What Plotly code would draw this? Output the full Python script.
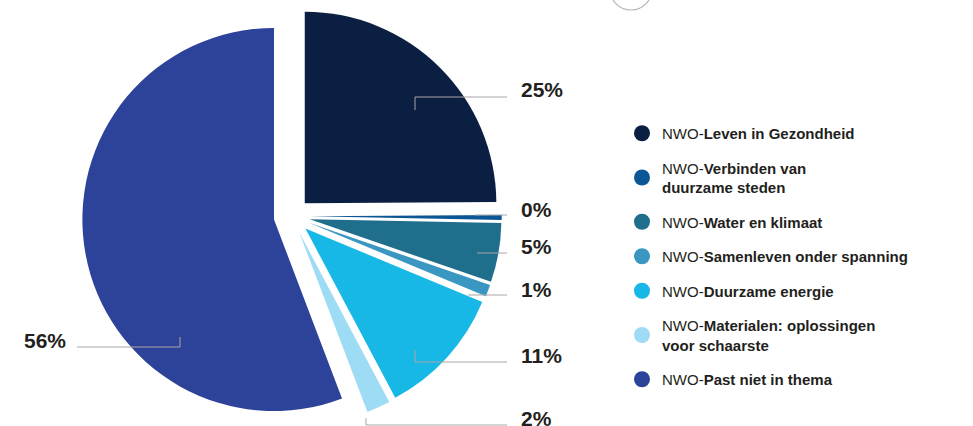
import plotly.graph_objects as go

# aandeel per thema (%)
themes = ['Leven in Gezondheid', 'Verbinden van<br>duurzame steden', 'Water en klimaat',
          'Samenleven onder spanning', 'Duurzame energie',
          'Materialen: oplossingen<br>voor schaarste', 'Past niet in thema']
values = [25, 0.4, 5, 1, 11, 2, 56]
pct_labels = ['25%', '0%', '5%', '1%', '11%', '2%', '56%']
colors = ['#0b1f43', '#0b5694', '#1e6e8c', '#3a97c2', '#18b8e6', '#9edcf5', '#2c4399']

W, H = 973, 426
def px(x, y):
    return x / W, 1 - y / H

fig = go.Figure()
fig.add_trace(go.Pie(
    values=values, labels=themes, sort=False, direction='clockwise', rotation=0,
    marker=dict(colors=colors, line=dict(width=0)),
    pull=[0.095] * len(values), textinfo='none', hoverinfo='label+percent',
    showlegend=False, domain=dict(x=[0, 0.6], y=[0, 0.985]),
))

# legenda met ronde stippen
for i, (t, c) in enumerate(zip(themes, colors)):
    fig.add_trace(go.Scatter(
        x=[None], y=[None], mode='markers', name='NWO-<b>' + t + '</b>',
        marker=dict(color=c, size=16, symbol='circle'), legendgroup=str(i), showlegend=True,
    ))

# leader lines + labels (pixel positions)
label_layout = [
    # (anchor_x, anchor_y, elbow_y, line_end_x, text_x, text_y, side)
    (415, 110, 97, 507, 519, 89, 'r'),
    (475, 215, 215, 507, 519, 209, 'r'),
    (477, 253, 253, 507, 519, 246, 'r'),
    (468, 295, 295, 507, 519, 289, 'r'),
    (415, 350, 362, 507, 519, 355, 'r'),
    (366, 418, 425, 507, 519, 418, 'r'),
    (180, 337, 347, 77, 68, 340, 'l'),
]
shapes = []
annotations = []
for lab, (ax, ay, ey, lx, tx, ty, side) in zip(pct_labels, label_layout):
    x0, y0 = px(ax, ay)
    x1, y1 = px(ax, ey)
    x2, y2 = px(lx, ey)
    shapes.append(dict(type='path', xref='paper', yref='paper',
                       path=f'M {x0} {y0} L {x1} {y1} L {x2} {y2}',
                       line=dict(color='#a6a6a6', width=1)))
    annotations.append(dict(text=f'<b>{lab}</b>', xref='paper', yref='paper',
                            x=px(tx, ty)[0], y=px(tx, ty)[1],
                            xanchor='left' if side == 'r' else 'right', yanchor='middle',
                            showarrow=False, font=dict(size=21, color='#231f20')))

# cirkel bovenaan (deels buiten beeld)
cx0, cy0 = px(610, -32)
cx1, cy1 = px(652, 10)
shapes.append(dict(type='circle', xref='paper', yref='paper', x0=cx0, y0=cy0, x1=cx1, y1=cy1,
                   line=dict(color='#b5b5b5', width=1.2)))

fig.update_layout(
    width=W, height=H, margin=dict(l=0, r=0, t=0, b=0),
    paper_bgcolor='white', plot_bgcolor='white',
    font=dict(family='Liberation Sans, Arial, sans-serif', color='#231f20'),
    xaxis=dict(visible=False), yaxis=dict(visible=False),
    legend=dict(x=622 / W, y=1 - 117 / H, xanchor='left', yanchor='top',
                font=dict(size=15, color='#231f20'), tracegroupgap=12,
                bgcolor='rgba(0,0,0,0)'),
    shapes=shapes, annotations=annotations,
)

fig.write_html("out.html", config={'displayModeBar': False, 'displaylogo': False},
               post_script="document.body.style.margin='0';")
